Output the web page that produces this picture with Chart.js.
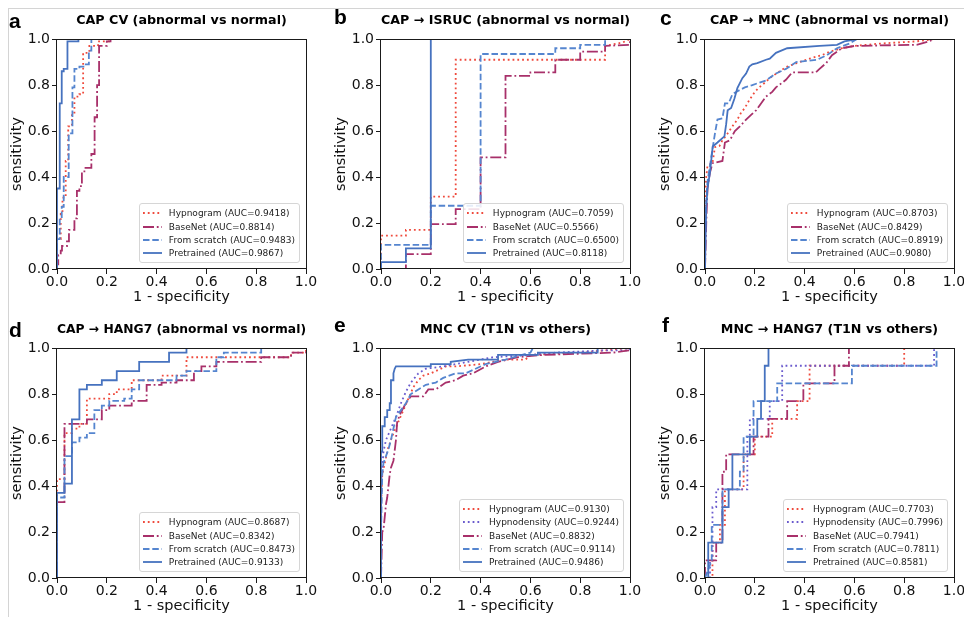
<!DOCTYPE html>
<html><head><meta charset="utf-8">
<script src="https://cdn.jsdelivr.net/npm/chart.js@4.4.1/dist/chart.umd.min.js"></script>
<style>
html,body{margin:0;padding:0;background:#fff;}
body{width:964px;height:617px;position:relative;overflow:hidden;font-family:"DejaVu Sans",sans-serif;}
.frameH{position:absolute;left:8px;top:8px;width:956px;height:1px;background:#d4d4d4;}
.frameV{position:absolute;left:8px;top:8px;width:1px;height:609px;background:#d4d4d4;}
.panel{position:absolute;}
.letter{position:absolute;font:bold 21px "Liberation Sans",Arial,sans-serif;line-height:21px;color:#000;}
.legend{position:absolute;border:1px solid #d6d6d6;border-radius:3px;background:rgba(255,255,255,0.85);padding:2px 4px 2px 3px;font:9px "DejaVu Sans",sans-serif;color:#222;white-space:nowrap;}
.legend .row{display:flex;align-items:center;height:13.4px;}
.legend svg{width:19px;height:6px;margin-right:7px;flex:none;}
</style></head><body>
<div class="frameH"></div><div class="frameV"></div>
<script>
// ---------- tick labels / axis text ----------
const tickValues = [0, 0.2, 0.4, 0.6, 0.8, 1.0];
const tickLabels = ['0.0', '0.2', '0.4', '0.6', '0.8', '1.0'];
const xAxisLabel = '1 - specificity';
const yAxisLabel = 'sensitivity';
const panelLetters = ['a', 'b', 'c', 'd', 'e', 'f'];
const panelTitles = [
  'CAP CV (abnormal vs normal)',
  'CAP \u2192 ISRUC (abnormal vs normal)',
  'CAP \u2192 MNC (abnormal vs normal)',
  'CAP \u2192 HANG7 (abnormal vs normal)',
  'MNC CV (T1N vs others)',
  'MNC \u2192 HANG7 (T1N vs others)'
];
const modelsCAP = ['Hypnogram', 'BaseNet', 'From scratch', 'Pretrained'];
const modelsMNC = ['Hypnogram', 'Hypnodensity', 'BaseNet', 'From scratch', 'Pretrained'];

// ---------- AUC values ----------
const aucA = [0.9418, 0.8814, 0.9483, 0.9867];
const aucB = [0.7059, 0.5566, 0.6500, 0.8118];
const aucC = [0.8703, 0.8429, 0.8919, 0.9080];
const aucD = [0.8687, 0.8342, 0.8473, 0.9133];
const aucE = [0.9130, 0.9244, 0.8832, 0.9114, 0.9486];
const aucF = [0.7703, 0.7996, 0.7941, 0.7811, 0.8581];

// ---------- ROC points [1-specificity, sensitivity] ----------
// a: CAP CV
const a_hypnogram = [[0,0],[0,0.13],[0.015,0.13],[0.015,0.24],[0.022,0.24],[0.022,0.31],[0.035,0.31],[0.035,0.47],[0.045,0.47],[0.045,0.62],[0.06,0.62],[0.06,0.68],[0.07,0.68],[0.07,0.75],[0.09,0.75],[0.09,0.76],[0.105,0.76],[0.105,0.94],[0.13,0.94],[0.13,0.97],[0.165,0.97],[0.165,0.99],[0.21,0.99],[0.21,1],[1,1]];
const a_basenet = [[0,0],[0,0.02],[0.005,0.02],[0.005,0.06],[0.015,0.06],[0.015,0.08],[0.02,0.08],[0.02,0.1],[0.04,0.1],[0.04,0.12],[0.048,0.12],[0.048,0.17],[0.07,0.17],[0.07,0.22],[0.08,0.22],[0.08,0.34],[0.09,0.34],[0.09,0.36],[0.1,0.36],[0.1,0.42],[0.11,0.42],[0.11,0.44],[0.138,0.44],[0.138,0.5],[0.151,0.5],[0.151,0.66],[0.161,0.66],[0.161,0.8],[0.169,0.8],[0.169,0.97],[0.2,0.97],[0.2,0.99],[0.215,0.99],[0.215,1],[1,1]];
const a_scratch = [[0,0],[0,0.13],[0.011,0.13],[0.011,0.22],[0.019,0.22],[0.019,0.27],[0.027,0.27],[0.027,0.40],[0.047,0.40],[0.047,0.59],[0.062,0.59],[0.062,0.79],[0.07,0.79],[0.07,0.87],[0.09,0.87],[0.09,0.88],[0.11,0.88],[0.11,0.89],[0.128,0.89],[0.128,0.95],[0.138,0.95],[0.138,1],[1,1]];
const a_pretrained = [[0,0],[0,0.35],[0.011,0.35],[0.011,0.72],[0.019,0.72],[0.019,0.86],[0.027,0.86],[0.027,0.87],[0.042,0.87],[0.042,0.99],[0.086,0.99],[0.086,1],[1,1]];
// b: CAP -> ISRUC
const b_hypnogram = [[0,0],[0,0.145],[0.1,0.145],[0.1,0.17],[0.2,0.17],[0.2,0.315],[0.3,0.315],[0.3,0.91],[0.9,0.91],[0.9,0.97],[0.97,0.985],[1,1]];
const b_basenet = [[0,0],[0.1,0],[0.1,0.065],[0.2,0.065],[0.2,0.195],[0.3,0.195],[0.3,0.26],[0.4,0.26],[0.4,0.485],[0.5,0.485],[0.5,0.84],[0.6,0.84],[0.6,0.855],[0.7,0.855],[0.7,0.91],[0.8,0.91],[0.8,0.945],[0.9,0.945],[0.9,0.97],[1,0.975],[1,1]];
const b_scratch = [[0,0],[0,0.105],[0.2,0.105],[0.2,0.275],[0.4,0.275],[0.4,0.935],[0.7,0.935],[0.7,0.96],[0.8,0.96],[0.8,0.975],[0.9,0.975],[0.9,1],[1,1]];
const b_pretrained = [[0,0],[0,0.03],[0.1,0.03],[0.1,0.09],[0.2,0.09],[0.2,1],[1,1]];
// c: CAP -> MNC
const c_hypnogram = [[0,0],[0,0.3],[0.005,0.4],[0.01,0.45],[0.03,0.46],[0.04,0.53],[0.058,0.535],[0.07,0.56],[0.085,0.58],[0.11,0.62],[0.13,0.65],[0.145,0.68],[0.16,0.70],[0.178,0.735],[0.2,0.77],[0.218,0.79],[0.24,0.81],[0.26,0.83],[0.3,0.86],[0.33,0.88],[0.38,0.9],[0.42,0.915],[0.47,0.93],[0.5,0.945],[0.55,0.96],[0.6,0.97],[0.7,0.98],[0.85,0.99],[0.92,1],[1,1]];
const c_basenet = [[0,0],[0.005,0.2],[0.01,0.35],[0.02,0.42],[0.03,0.46],[0.07,0.47],[0.08,0.55],[0.1,0.56],[0.12,0.6],[0.14,0.62],[0.165,0.65],[0.185,0.67],[0.205,0.69],[0.225,0.72],[0.245,0.75],[0.27,0.77],[0.285,0.79],[0.31,0.81],[0.325,0.823],[0.35,0.855],[0.445,0.855],[0.46,0.87],[0.487,0.896],[0.51,0.93],[0.55,0.96],[0.6,0.97],[0.85,0.975],[0.9,0.99],[0.92,1],[1,1]];
const c_scratch = [[0,0],[0,0.2],[0.01,0.38],[0.02,0.45],[0.03,0.52],[0.04,0.59],[0.05,0.65],[0.07,0.655],[0.08,0.72],[0.095,0.72],[0.11,0.76],[0.125,0.77],[0.16,0.79],[0.19,0.80],[0.245,0.82],[0.285,0.85],[0.325,0.87],[0.366,0.9],[0.45,0.91],[0.49,0.93],[0.53,0.96],[0.58,0.98],[0.61,1],[1,1]];
const c_pretrained = [[0,0],[0.005,0.27],[0.01,0.35],[0.02,0.42],[0.031,0.533],[0.05,0.55],[0.078,0.577],[0.085,0.63],[0.091,0.69],[0.105,0.70],[0.118,0.74],[0.13,0.787],[0.15,0.83],[0.165,0.85],[0.178,0.88],[0.19,0.89],[0.21,0.895],[0.245,0.91],[0.26,0.915],[0.285,0.94],[0.33,0.96],[0.46,0.97],[0.53,0.975],[0.56,0.99],[0.61,1],[1,1]];
// d: CAP -> HANG7
const d_hypnogram = [[0,0],[0,0.43],[0.03,0.43],[0.03,0.63],[0.06,0.63],[0.06,0.65],[0.09,0.65],[0.09,0.67],[0.12,0.67],[0.12,0.78],[0.21,0.78],[0.21,0.80],[0.24,0.80],[0.24,0.82],[0.30,0.82],[0.30,0.86],[0.42,0.86],[0.42,0.88],[0.52,0.88],[0.52,0.96],[0.94,0.96],[0.94,0.98],[1,0.98],[1,1]];
const d_basenet = [[0,0],[0,0.33],[0.03,0.33],[0.03,0.67],[0.12,0.67],[0.12,0.69],[0.18,0.69],[0.18,0.73],[0.21,0.73],[0.21,0.75],[0.30,0.75],[0.30,0.77],[0.36,0.77],[0.36,0.84],[0.42,0.84],[0.42,0.85],[0.48,0.85],[0.48,0.86],[0.55,0.86],[0.55,0.90],[0.58,0.90],[0.58,0.92],[0.64,0.92],[0.64,0.94],[0.82,0.94],[0.82,0.96],[0.94,0.96],[0.94,0.98],[1,0.98],[1,1]];
const d_scratch = [[0,0],[0,0.35],[0.03,0.35],[0.03,0.53],[0.06,0.53],[0.06,0.59],[0.09,0.59],[0.09,0.61],[0.12,0.61],[0.12,0.63],[0.15,0.63],[0.15,0.73],[0.18,0.73],[0.18,0.75],[0.21,0.75],[0.21,0.77],[0.27,0.77],[0.27,0.78],[0.30,0.78],[0.30,0.82],[0.33,0.82],[0.33,0.86],[0.48,0.86],[0.48,0.88],[0.52,0.88],[0.52,0.90],[0.64,0.90],[0.64,0.96],[0.67,0.96],[0.67,0.98],[0.82,0.98],[0.82,1],[1,1]];
const d_pretrained = [[0,0],[0,0.37],[0.03,0.37],[0.03,0.41],[0.06,0.41],[0.06,0.69],[0.09,0.69],[0.09,0.82],[0.12,0.82],[0.12,0.84],[0.18,0.84],[0.18,0.86],[0.24,0.86],[0.24,0.90],[0.33,0.90],[0.33,0.94],[0.45,0.94],[0.45,0.98],[0.52,0.98],[0.52,1],[1,1]];
// e: MNC CV
const e_hypnogram = [[0,0],[0,0.3],[0.005,0.45],[0.015,0.5],[0.03,0.57],[0.05,0.63],[0.07,0.68],[0.09,0.73],[0.11,0.78],[0.13,0.83],[0.15,0.86],[0.17,0.88],[0.2,0.89],[0.26,0.92],[0.3,0.92],[0.4,0.93],[0.5,0.95],[0.58,0.95],[0.6,0.97],[0.8,0.98],[1,1]];
const e_hypnodensity = [[0,0],[0,0.4],[0.01,0.55],[0.02,0.6],[0.04,0.65],[0.06,0.7],[0.08,0.76],[0.1,0.81],[0.12,0.85],[0.15,0.89],[0.18,0.91],[0.25,0.92],[0.35,0.94],[0.45,0.96],[0.6,0.97],[0.7,0.98],[0.9,0.99],[1,0.99],[1,1]];
const e_basenet = [[0,0],[0.005,0.2],[0.01,0.21],[0.02,0.32],[0.025,0.35],[0.035,0.45],[0.04,0.48],[0.05,0.51],[0.06,0.6],[0.065,0.68],[0.08,0.72],[0.1,0.76],[0.12,0.79],[0.17,0.79],[0.19,0.82],[0.22,0.82],[0.26,0.85],[0.3,0.86],[0.33,0.88],[0.37,0.89],[0.42,0.92],[0.47,0.94],[0.55,0.96],[0.65,0.97],[0.93,0.98],[1,0.99],[1,1]];
const e_scratch = [[0,0],[0,0.2],[0.005,0.45],[0.01,0.5],[0.02,0.53],[0.03,0.56],[0.04,0.60],[0.05,0.65],[0.06,0.70],[0.08,0.73],[0.1,0.76],[0.12,0.80],[0.15,0.82],[0.18,0.84],[0.22,0.85],[0.25,0.87],[0.3,0.89],[0.34,0.89],[0.38,0.91],[0.42,0.93],[0.5,0.95],[0.6,0.98],[0.61,1],[1,1]];
const e_pretrained = [[0,0],[0,0.55],[0.005,0.55],[0.005,0.66],[0.015,0.66],[0.015,0.70],[0.025,0.70],[0.025,0.73],[0.035,0.73],[0.035,0.76],[0.04,0.76],[0.04,0.86],[0.05,0.86],[0.05,0.89],[0.055,0.91],[0.06,0.92],[0.2,0.92],[0.2,0.93],[0.28,0.93],[0.28,0.94],[0.35,0.95],[0.47,0.95],[0.47,0.97],[0.63,0.97],[0.63,0.98],[0.87,0.98],[0.87,1],[1,1]];
// f: MNC -> HANG7
const f_hypnogram = [[0,0],[0.03,0],[0.03,0.154],[0.06,0.154],[0.06,0.231],[0.08,0.231],[0.08,0.385],[0.155,0.385],[0.155,0.538],[0.2,0.538],[0.2,0.615],[0.27,0.615],[0.27,0.692],[0.37,0.692],[0.37,0.769],[0.42,0.769],[0.42,0.923],[0.8,0.923],[0.8,1],[1,1]];
const f_hypnodensity = [[0,0],[0.02,0],[0.02,0.077],[0.03,0.077],[0.03,0.308],[0.045,0.308],[0.045,0.385],[0.17,0.385],[0.17,0.615],[0.18,0.615],[0.18,0.692],[0.26,0.692],[0.26,0.769],[0.31,0.769],[0.31,0.923],[0.92,0.923],[0.92,1],[1,1]];
const f_basenet = [[0,0],[0,0.077],[0.045,0.077],[0.045,0.154],[0.07,0.154],[0.07,0.462],[0.085,0.462],[0.085,0.538],[0.195,0.538],[0.195,0.615],[0.255,0.615],[0.255,0.692],[0.33,0.692],[0.33,0.769],[0.395,0.769],[0.395,0.846],[0.52,0.846],[0.52,0.923],[0.578,0.923],[0.578,1],[1,1]];
const f_scratch = [[0,0],[0.027,0.077],[0.027,0.231],[0.07,0.231],[0.07,0.385],[0.14,0.385],[0.14,0.462],[0.155,0.462],[0.155,0.615],[0.195,0.615],[0.195,0.769],[0.29,0.769],[0.29,0.846],[0.59,0.846],[0.59,0.923],[0.93,0.923],[0.93,1],[1,1]];
const f_pretrained = [[0,0],[0.013,0],[0.013,0.154],[0.07,0.154],[0.07,0.308],[0.095,0.308],[0.095,0.385],[0.11,0.385],[0.11,0.538],[0.18,0.538],[0.18,0.615],[0.21,0.615],[0.21,0.692],[0.225,0.692],[0.225,0.769],[0.24,0.769],[0.24,0.923],[0.255,0.923],[0.255,1],[1,1]];

// ---------- styles (kept separate from data) ----------
const STY = {
  'Hypnogram':    {color: '#ef4a3c', dash: [1.8, 3.0], order: 4},
  'Hypnodensity': {color: '#6a5acd', dash: [1.8, 3.0], order: 3},
  'BaseNet':      {color: '#a8306a', dash: [11, 2.8, 1.8, 2.8], order: 2},
  'From scratch': {color: '#5585cf', dash: [6.5, 2.8], order: 1},
  'Pretrained':   {color: '#4672bf', dash: [], order: 0}
};
const LINE_W = 1.8;
const colL = [57, 381, 705], rowT = [39, 348];
const PW = 249, PH = 230, AXW = 57, TITLEH = 30, XAXH = 40;
const letterPos = [[9, 28], [334, 24], [660, 25], [9, 336.5], [334, 331.5], [662, 331.5]];

const panels = [
  {models: modelsCAP, auc: aucA, pts: [a_hypnogram, a_basenet, a_scratch, a_pretrained]},
  {models: modelsCAP, auc: aucB, pts: [b_hypnogram, b_basenet, b_scratch, b_pretrained]},
  {models: modelsCAP, auc: aucC, pts: [c_hypnogram, c_basenet, c_scratch, c_pretrained]},
  {models: modelsCAP, auc: aucD, pts: [d_hypnogram, d_basenet, d_scratch, d_pretrained]},
  {models: modelsMNC, auc: aucE, pts: [e_hypnogram, e_hypnodensity, e_basenet, e_scratch, e_pretrained]},
  {models: modelsMNC, auc: aucF, pts: [f_hypnogram, f_hypnodensity, f_basenet, f_scratch, f_pretrained]}
];

const FONT = 'DejaVu Sans';
const boxPlugin = {
  id: 'boxFrame',
  afterDatasetsDraw(chart) {
    const {ctx, chartArea: a} = chart;
    ctx.save();
    ctx.strokeStyle = '#1a1a1a';
    ctx.lineWidth = 1;
    ctx.strokeRect(Math.round(a.left) - 0.5, Math.round(a.top) + 0.5,
                   Math.round(a.right - a.left) + 1, Math.round(a.bottom - a.top) - 1);
    ctx.restore();
  }
};

function axis(isX) {
  return {
    type: 'linear', min: 0, max: 1,
    afterBuildTicks(s) { s.ticks = tickValues.map(v => ({value: v})); },
    afterFit(s) {
      if (isX) { s.height = XAXH; s.paddingLeft = 0; s.paddingRight = 0; }
      else { s.width = AXW; s.paddingTop = 0; s.paddingBottom = 0; }
    },
    ticks: {
      callback: (v, i) => tickLabels[i],
      font: {family: FONT, size: 14}, color: '#111',
      padding: isX ? 0 : 2, maxRotation: 0, autoSkip: false
    },
    grid: {drawOnChartArea: false, drawTicks: true, tickLength: 5, color: '#1a1a1a', lineWidth: 1},
    border: {display: false},
    title: {
      display: true, text: isX ? xAxisLabel : yAxisLabel,
      font: {family: FONT, size: 14.5}, color: '#111',
      padding: isX ? {top: 0, bottom: 2.8} : {top: 8.5, bottom: 0}
    }
  };
}

function svgLine(sty) {
  const dash = sty.dash.length ? ` stroke-dasharray="${sty.dash.join(' ')}"` : '';
  return `<svg viewBox="0 0 19 6"><line x1="0" y1="3" x2="19" y2="3" stroke="${sty.color}" stroke-width="${LINE_W}"${dash}/></svg>`;
}

panels.forEach((p, idx) => {
  const L = colL[idx % 3], T = rowT[Math.floor(idx / 3)];
  const wrap = document.createElement('div');
  wrap.className = 'panel';
  const cw = AXW + PW + 22, chh = TITLEH + PH + XAXH + 4;
  wrap.style.left = (L - AXW) + 'px';
  wrap.style.top = (T - TITLEH) + 'px';
  wrap.style.width = cw + 'px';
  wrap.style.height = chh + 'px';
  const cv = document.createElement('canvas');
  cv.width = cw; cv.height = chh;
  wrap.appendChild(cv);
  document.body.appendChild(wrap);

  const datasets = p.models.map((m, k) => ({
    label: `${m} (AUC=${p.auc[k].toFixed(4)})`,
    data: p.pts[k].map(([x, y]) => ({x, y})),
    borderColor: STY[m].color,
    backgroundColor: STY[m].color,
    borderWidth: LINE_W,
    borderDash: STY[m].dash,
    showLine: true, pointRadius: 0, tension: 0, fill: false,
    order: STY[m].order
  }));

  new Chart(cv, {
    type: 'scatter',
    data: {datasets},
    options: {
      responsive: false, animation: false, devicePixelRatio: 1,
      layout: {padding: {left: 0, top: 0, right: cw - AXW - PW, bottom: chh - TITLEH - PH - XAXH}},
      plugins: {
        legend: {display: false}, tooltip: {enabled: false},
        title: {
          display: true, text: panelTitles[idx], fullSize: false,
          font: {family: FONT, size: 12.7, weight: 'bold'}, color: '#000',
          padding: {top: 4.4, bottom: 10.4}
        }
      },
      scales: {x: axis(true), y: axis(false)}
    },
    plugins: [boxPlugin]
  });

  // panel letter
  const lt = document.createElement('div');
  lt.className = 'letter';
  lt.textContent = panelLetters[idx];
  lt.style.left = letterPos[idx][0] + 'px';
  lt.style.top = (letterPos[idx][1] - 17.8) + 'px';
  document.body.appendChild(lt);

  // legend (lower right inside axes)
  const lg = document.createElement('div');
  lg.className = 'legend';
  lg.innerHTML = datasets.map((d, k) =>
    `<div class="row">${svgLine(STY[p.models[k]])}<span>${d.label}</span></div>`).join('');
  lg.style.right = (964 - (L + PW - 6)) + 'px';
  lg.style.bottom = (617 - (T + PH - 6)) + 'px';
  document.body.appendChild(lg);
});
</script>
</body></html>
